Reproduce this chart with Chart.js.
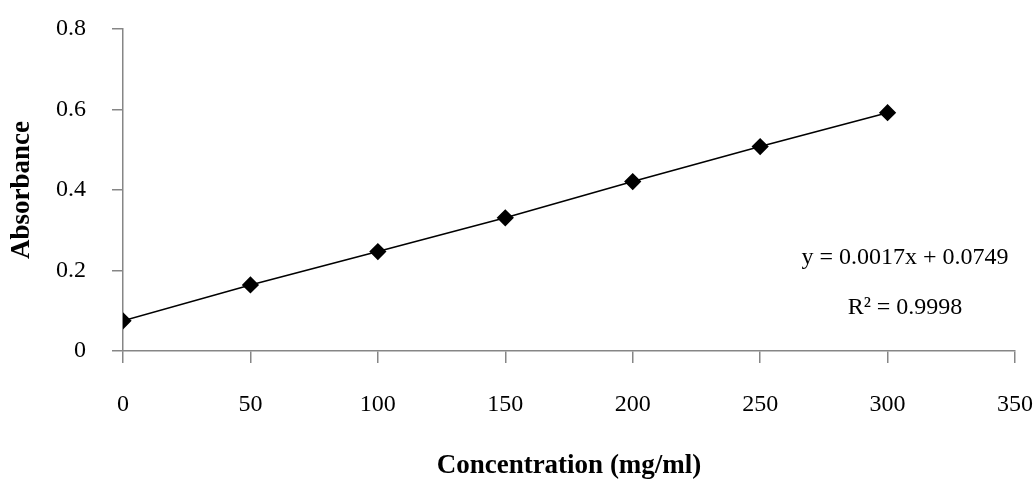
<!DOCTYPE html>
<html>
<head>
<meta charset="utf-8">
<script src="https://cdn.jsdelivr.net/npm/chart.js@4"></script>
<style>
  html, body { margin: 0; padding: 0; background: #ffffff; }
  #wrap { width: 1036px; height: 480px; position: relative; }
</style>
</head>
<body>
<div id="wrap"><canvas id="c" width="1036" height="480"></canvas></div>
<script>
const concentrations = [0, 50, 100, 150, 200, 250, 300];
const absorbance = [0.075, 0.164, 0.247, 0.331, 0.421, 0.508, 0.592];
const xTickLabels = ['0', '50', '100', '150', '200', '250', '300', '350'];
const yTickLabels = ['0', '0.2', '0.4', '0.6', '0.8'];
const equationLines = ['y = 0.0017x + 0.0749', 'R² = 0.9998'];
const xTitle = 'Concentration (mg/ml)';
const yTitle = 'Absorbance';

const FONT = "'Liberation Serif', 'Times New Roman', serif";
const AXIS_COLOR = '#868686';

const points = concentrations.map((x, i) => ({ x: x, y: absorbance[i] }));

const equationPlugin = {
  id: 'equation',
  afterDatasetsDraw(chart) {
    const ctx = chart.ctx;
    const a = chart.chartArea;
    ctx.save();
    ctx.fillStyle = '#000';
    ctx.font = '24px ' + FONT;
    ctx.textAlign = 'center';
    ctx.textBaseline = 'middle';
    const cx = a.right - 110;
    ctx.fillText(equationLines[0], cx, a.top + 229);
    ctx.fillText(equationLines[1], cx, a.top + 279);
    ctx.restore();
  }
};

function zeroPad(scale) {
  scale.paddingLeft = 0;
  scale.paddingRight = 0;
  scale.paddingTop = 0;
  scale.paddingBottom = 0;
}

new Chart(document.getElementById('c'), {
  type: 'scatter',
  data: {
    datasets: [{
      data: points,
      showLine: true,
      borderColor: '#000000',
      borderWidth: 1.6,
      backgroundColor: '#000000',
      pointStyle: 'rectRot',
      pointRadius: 7.5,
      pointHoverRadius: 7.5,
      pointBorderColor: '#000000',
      pointBackgroundColor: '#000000'
    }]
  },
  options: {
    responsive: false,
    animation: false,
    devicePixelRatio: 1,
    layout: { padding: { top: 29, right: 21, left: 0, bottom: 0 } },
    plugins: { legend: { display: false }, tooltip: { enabled: false } },
    scales: {
      x: {
        type: 'linear',
        min: 0, max: 350,
        afterBuildTicks(scale) {
          scale.ticks = xTickLabels.map(v => ({ value: Number(v) }));
        },
        afterFit(scale) { scale.height = 129; zeroPad(scale); },
        ticks: {
          color: '#000',
          font: { family: FONT, size: 24 },
          padding: 27,
          maxRotation: 0,
          callback: (v, i) => xTickLabels[i]
        },
        grid: { drawOnChartArea: false, drawTicks: true, tickLength: 12, color: AXIS_COLOR, lineWidth: 1.5 },
        border: { display: true, color: AXIS_COLOR, width: 1.5 },
        title: {
          display: true, text: xTitle, color: '#000',
          font: { family: FONT, size: 27, weight: 'bold', lineHeight: 1 },
          padding: { top: 0, bottom: 0 }
        }
      },
      y: {
        type: 'linear',
        min: 0, max: 0.8,
        afterBuildTicks(scale) {
          scale.ticks = yTickLabels.map(v => ({ value: Number(v) }));
        },
        afterFit(scale) { scale.width = 123; zeroPad(scale); },
        ticks: {
          color: '#000',
          font: { family: FONT, size: 24 },
          padding: 26,
          callback: (v, i) => yTickLabels[i]
        },
        grid: { drawOnChartArea: false, drawTicks: true, tickLength: 11, color: AXIS_COLOR, lineWidth: 1.5 },
        border: { display: true, color: AXIS_COLOR, width: 1.5 },
        title: {
          display: true, text: yTitle, color: '#000',
          font: { family: FONT, size: 27, weight: 'bold', lineHeight: 1 },
          padding: { top: 9, bottom: 0 }
        }
      }
    }
  },
  plugins: [equationPlugin]
});
</script>
</body>
</html>
